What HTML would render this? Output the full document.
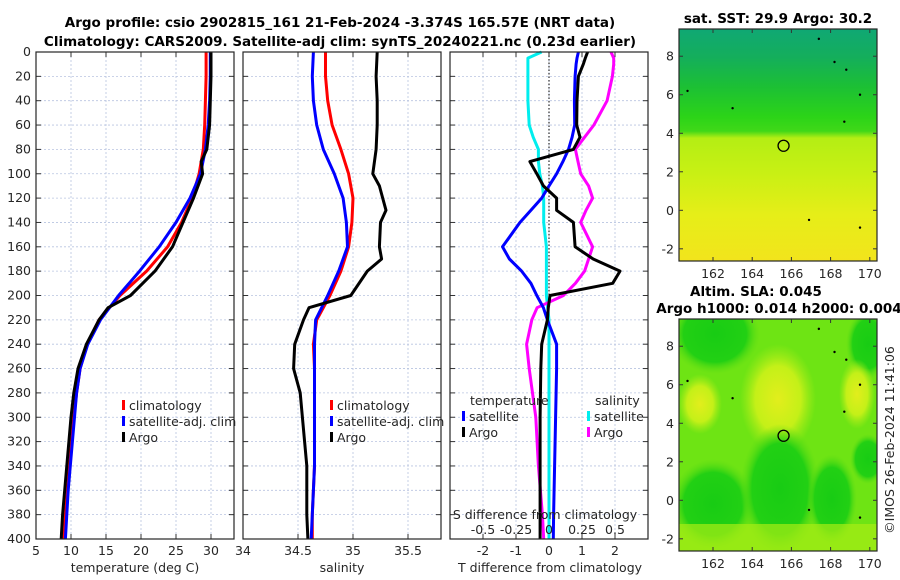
<!DOCTYPE html>
<html><head><meta charset="utf-8"><style>
body{margin:0;background:#fff}
svg{display:block;font-family:"DejaVu Sans","Liberation Sans",sans-serif}
.t{font-size:12.5px;fill:#262626}
.ti{font-size:13.5px;font-weight:bold;fill:#000}
</style></head><body>
<svg id="fig" width="900" height="580" xmlns="http://www.w3.org/2000/svg">
<defs>
<linearGradient id="sstg" x1="0" y1="0" x2="0" y2="1">
<stop offset="0" stop-color="#10a874"/><stop offset="0.12" stop-color="#14ae5c"/>
<stop offset="0.25" stop-color="#1cc034"/><stop offset="0.38" stop-color="#2cd418"/>
<stop offset="0.44" stop-color="#40d818"/><stop offset="0.47" stop-color="#b4ee14"/>
<stop offset="0.62" stop-color="#c8f014"/><stop offset="0.8" stop-color="#e6ee18"/>
<stop offset="1" stop-color="#f2e41c"/>
</linearGradient>
<radialGradient id="ylw"><stop offset="0" stop-color="#e2ee1c"/><stop offset="0.6" stop-color="#c4f018"/><stop offset="1" stop-color="#a8ec18" stop-opacity="0"/></radialGradient>
<radialGradient id="dgr"><stop offset="0" stop-color="#18cc14"/><stop offset="0.7" stop-color="#22d014"/><stop offset="1" stop-color="#5cdc14" stop-opacity="0"/></radialGradient>
<clipPath id="clipsst"><rect x="679" y="29" width="198" height="232"/></clipPath>
<clipPath id="clipsla"><rect x="679" y="319" width="198" height="232"/></clipPath>
</defs>
<g id="root"></g>
</svg>
<script>
const depths=[0,20,40,60,80,100,120,140,160,180,200,220,240,260,280,300,320,340,360,380,400];
const tClim=[29.3,29.3,29.2,29.1,28.9,28.3,27.3,25.8,23.8,20.8,17.0,14.0,12.3,11.3,10.8,10.4,10.1,9.8,9.5,9.2,9.0];
const tSat=[29.9,29.9,29.8,29.6,29.2,28.5,27.0,25.0,22.6,19.8,16.8,14.2,12.4,11.3,10.8,10.5,10.2,9.9,9.6,9.4,9.2];
const argoDepths=[0,20,40,60,80,90,100,120,140,160,180,200,210,220,240,260,280,300,320,340,360,380,400];
const tArgo=[30.0,30.0,29.9,29.8,29.4,28.6,28.8,27.5,26.0,24.5,22.0,18.5,15.3,14.0,12.2,11.0,10.4,10.0,9.7,9.4,9.1,8.8,8.6];
const sClim=[34.75,34.75,34.77,34.81,34.89,34.96,35.0,34.99,34.96,34.89,34.79,34.67,34.64,34.65,34.65,34.65,34.65,34.65,34.64,34.63,34.63];
const sSat=[34.64,34.63,34.64,34.67,34.73,34.83,34.91,34.94,34.95,34.87,34.77,34.66,34.65,34.65,34.65,34.65,34.65,34.65,34.64,34.63,34.62];
const sArgoDepths=[0,20,40,60,80,100,110,120,130,140,160,170,180,200,210,220,240,260,280,300,320,340,360,380,400];
const sArgo=[35.22,35.21,35.22,35.22,35.21,35.18,35.24,35.27,35.30,35.25,35.24,35.26,35.13,34.98,34.60,34.55,34.47,34.46,34.52,34.54,34.56,34.58,34.58,34.58,34.59];
const dDepths=[0,5,10,20,40,60,70,80,90,100,110,120,130,140,160,170,180,190,200,210,220,240,260,300,340,380,400];
const dTSat=[0.89,0.85,0.82,0.79,0.77,0.78,0.7,0.59,0.42,0.23,0.0,-0.22,-0.55,-0.88,-1.41,-1.2,-0.83,-0.55,-0.37,-0.17,-0.05,0.23,0.23,0.2,0.17,0.14,0.13];
const dTArgo=[1.17,1.1,1.04,0.89,0.85,0.84,0.94,0.74,-0.58,-0.37,-0.17,0.23,0.23,0.74,0.79,1.34,2.15,1.93,0.03,-0.02,-0.05,-0.22,-0.25,-0.27,-0.27,-0.27,-0.27];
const dSSat=[-0.056,-0.16,-0.16,-0.16,-0.16,-0.15,-0.12,-0.08,-0.08,-0.07,-0.05,-0.04,-0.04,-0.04,-0.02,-0.02,-0.02,-0.02,-0.02,-0.01,0.0,0.0,0.0,0.0,0.0,0.0,0.0];
const dSArgo=[0.47,0.49,0.49,0.48,0.44,0.34,0.27,0.2,0.22,0.24,0.3,0.33,0.28,0.24,0.33,0.3,0.27,0.2,0.11,-0.09,-0.13,-0.17,-0.15,-0.1,-0.08,-0.05,-0.04];
const depthTicks=[0,20,40,60,80,100,120,140,160,180,200,220,240,260,280,300,320,340,360,380,400];
const tTicks=[5,10,15,20,25,30];
const sTicks=[34,34.5,35,35.5];
const dtTicks=[-2,-1,0,1,2];
const dsTicks=[-0.5,-0.25,0,0.25,0.5];
const latTicks=[-2,0,2,4,6,8];
const lonTicks=[162,164,166,168,170];
const floatLon=165.6, floatLat=3.35;

const NS="http://www.w3.org/2000/svg";
const root=document.getElementById('root');
function mk(tag,attrs,parent,txt){const e=document.createElementNS(NS,tag);for(const k in attrs)e.setAttribute(k,attrs[k]);if(txt!==undefined)e.textContent=txt;(parent||root).appendChild(e);return e;}
const Y0=52,Y1=539;
const yD=d=>Y0+(d/400)*(Y1-Y0);
const xT=t=>36+(t-5)*7;
const xS=s=>243+(s-34)*110;
const xDT=t=>549+t*33;
const xDS=s=>549+s*132;
const lonX=l=>713+(l-162)*19.6;
const latY=(l,y0)=>y0-l*19.26;

function panel(name,x0,x1,xticks,xf,lbls){
  const g=mk('g',{});
  
  
  for(const d of depthTicks){const y=yD(d);mk('line',{x1:x0,x2:x1,y1:y,y2:y,stroke:'#b8c4e0','stroke-width':0.8,'stroke-dasharray':'2,2'},g);
    mk('line',{x1:x0,x2:x0+5,y1:y,y2:y,stroke:'#333'},g);mk('line',{x1:x1-5,x2:x1,y1:y,y2:y,stroke:'#333'},g);}
  for(const t of xticks){const x=xf(t);mk('line',{x1:x,x2:x,y1:Y0,y2:Y1,stroke:'#b8c4e0','stroke-width':0.8,'stroke-dasharray':'2,2'},g);
    mk('line',{x1:x,x2:x,y1:Y1-5,y2:Y1,stroke:'#333'},g);mk('line',{x1:x,x2:x,y1:Y0,y2:Y0+5,stroke:'#333'},g);
    if(lbls){const tx=mk('text',{x:x,y:555,'text-anchor':'middle',class:'t'},g,String(t));}}
  return g;
}
function frame(g,x0,x1){mk('rect',{x:x0,y:Y0,width:x1-x0,height:Y1-Y0,fill:'none',stroke:'#262626','stroke-width':1.2},g);}
function line(g,ds,vs,xf,color,name,w){const pts=ds.map((d,i)=>xf(vs[i]).toFixed(1)+','+yD(d).toFixed(1)).join(' ');
  const p=mk('polyline',{points:pts,fill:'none',stroke:color,'stroke-width':w||3,'stroke-linejoin':'round'},g);
  }
function legend(g,x,y,color,label){mk('rect',{x:x,y:y-10,width:3,height:10,fill:color},g);
  const t=mk('text',{x:x+7,y:y,class:'t','font-size':'13px'},g,label);}

let tt=mk('text',{x:340,y:27,'text-anchor':'middle',class:'ti'},root,'Argo profile: csio 2902815_161 21-Feb-2024 -3.374S 165.57E (NRT data)');

tt=mk('text',{x:340,y:46,'text-anchor':'middle',class:'ti'},root,'Climatology: CARS2009. Satellite-adj clim: synTS_20240221.nc (0.23d earlier)');


const g1=panel('temperature-panel',36,234,tTicks,xT,true);
for(const d of depthTicks){const t=mk('text',{x:31,y:yD(d)+4,'text-anchor':'end',class:'t'},g1,String(d));}
line(g1,depths,tClim,xT,'#f00','temp-climatology-line');
line(g1,depths,tSat,xT,'#00f','temp-satellite-line');
line(g1,argoDepths,tArgo,xT,'#000','temp-argo-line');
frame(g1,36,234);
legend(g1,122,410,'#f00','climatology');legend(g1,122,426,'#00f','satellite-adj. clim');legend(g1,122,442,'#000','Argo');
tt=mk('text',{x:135,y:572,'text-anchor':'middle',class:'t','font-size':'13px'},g1,'temperature (deg C)');

const g2=panel('salinity-panel',243,441,sTicks,xS,true);
line(g2,depths,sClim,xS,'#f00','sal-climatology-line');
line(g2,depths,sSat,xS,'#00f','sal-satellite-line');
line(g2,sArgoDepths,sArgo,xS,'#000','sal-argo-line');
frame(g2,243,441);
legend(g2,330,410,'#f00','climatology');legend(g2,330,426,'#00f','satellite-adj. clim');legend(g2,330,442,'#000','Argo');
tt=mk('text',{x:342,y:572,'text-anchor':'middle',class:'t','font-size':'13px'},g2,'salinity');

const g3=panel('difference-panel',450,648,dtTicks,xDT,true);
mk('line',{x1:549,x2:549,y1:Y0,y2:Y1,stroke:'#000','stroke-width':1,'stroke-dasharray':'1.5,2'},g3);
line(g3,dDepths,dSSat,xDS,'#0ee','sdiff-satellite-line');
line(g3,dDepths,dSArgo,xDS,'#f0f','sdiff-argo-line');
line(g3,dDepths,dTSat,xDT,'#00f','tdiff-satellite-line');
line(g3,dDepths,dTArgo,xDT,'#000','tdiff-argo-line');
frame(g3,450,648);
mk('text',{x:470,y:405,class:'t','font-size':'13px'},g3,'temperature');
mk('text',{x:595,y:405,class:'t','font-size':'13px'},g3,'salinity');
legend(g3,462,421,'#00f','satellite');legend(g3,462,437,'#000','Argo');
legend(g3,587,421,'#0ee','satellite');legend(g3,587,437,'#f0f','Argo');
tt=mk('text',{x:545,y:519,'text-anchor':'middle',class:'t','font-size':'13px'},g3,'S difference from climatology');
for(const s of dsTicks){const t=mk('text',{x:xDS(s),y:534,'text-anchor':'middle',class:'t'},g3,String(s));}
tt=mk('text',{x:550,y:572,'text-anchor':'middle',class:'t','font-size':'13px'},g3,'T difference from climatology');

function map(name,yTop,y0,kind){
  const H=232,W=198,X=679;
  const g=mk('g',{});
  const f=mk('g',{'clip-path':kind==='sst'?'url(#clipsst)':'url(#clipsla)'},g);
  if(kind==='sst'){mk('rect',{x:X,y:yTop,width:W,height:H,fill:'url(#sstg)'},f);}
  else{mk('rect',{x:X,y:yTop,width:W,height:H,fill:'#6ee414'},f);
    mk('ellipse',{cx:715,cy:yTop+15,rx:45,ry:40,fill:'url(#dgr)'},f);
    mk('ellipse',{cx:868,cy:yTop+25,rx:22,ry:35,fill:'url(#dgr)'},f);
    mk('ellipse',{cx:778,cy:yTop+80,rx:38,ry:55,fill:'url(#ylw)'},f);
    mk('ellipse',{cx:700,cy:yTop+85,rx:22,ry:30,fill:'url(#ylw)'},f);
    mk('ellipse',{cx:857,cy:yTop+75,rx:18,ry:35,fill:'url(#ylw)'},f);
    mk('ellipse',{cx:713,cy:yTop+185,rx:42,ry:45,fill:'url(#dgr)'},f);
    mk('ellipse',{cx:780,cy:yTop+170,rx:40,ry:65,fill:'url(#dgr)'},f);
    mk('ellipse',{cx:832,cy:yTop+180,rx:25,ry:45,fill:'url(#dgr)'},f);
    mk('ellipse',{cx:868,cy:yTop+140,rx:18,ry:25,fill:'url(#dgr)'},f);
    mk('rect',{x:X,y:yTop+205,width:W,height:27,fill:'#a8ec14',opacity:0.7},f);}
  for(const p of [[163,5.3],[167.4,8.9],[168.2,7.7],[169.5,6.0],[168.7,4.6],[166.9,-0.5],[160.7,6.2],[169.5,-0.9],[168.8,7.3]]){mk('circle',{cx:lonX(p[0]),cy:latY(p[1],y0),r:1.2,fill:'#000'},g);}
  const c=mk('circle',{cx:lonX(floatLon),cy:latY(floatLat,y0),r:5.5,fill:'none',stroke:'#000','stroke-width':1.3},g);
  
  mk('rect',{x:X,y:yTop,width:W,height:H,fill:'none',stroke:'#262626','stroke-width':1.2},g);
  for(const l of latTicks){const y=latY(l,y0);mk('line',{x1:X,x2:X+4,y1:y,y2:y,stroke:'#333'},g);mk('line',{x1:X+W-4,x2:X+W,y1:y,y2:y,stroke:'#333'},g);
    const t=mk('text',{x:674,y:y+4.5,'text-anchor':'end',class:'t'},g,String(l));}
  for(const l of lonTicks){const x=lonX(l);mk('line',{x1:x,x2:x,y1:yTop+H-4,y2:yTop+H,stroke:'#333'},g);mk('line',{x1:x,x2:x,y1:yTop,y2:yTop+4,stroke:'#333'},g);
    const t=mk('text',{x:x,y:yTop+H+17,'text-anchor':'middle',class:'t'},g,String(l));}
}
map('sst-map',29,210.3,'sst');
map('sla-map',319,500.3,'sla');
tt=mk('text',{x:778,y:23,'text-anchor':'middle',class:'ti','font-size':'13px'},root,'sat. SST: 29.9 Argo: 30.2');
tt=mk('text',{x:756,y:296,'text-anchor':'middle',class:'ti','font-size':'13px'},root,'Altim. SLA: 0.045');
tt=mk('text',{x:779,y:313,'text-anchor':'middle',class:'ti','font-size':'13px'},root,'Argo h1000: 0.014 h2000: 0.004');
tt=mk('text',{x:0,y:0,'text-anchor':'middle',class:'t','font-size':'13px',transform:'translate(894,440) rotate(-90)'},root,'©IMOS 26-Feb-2024 11:41:06');
</script>
</body></html>
